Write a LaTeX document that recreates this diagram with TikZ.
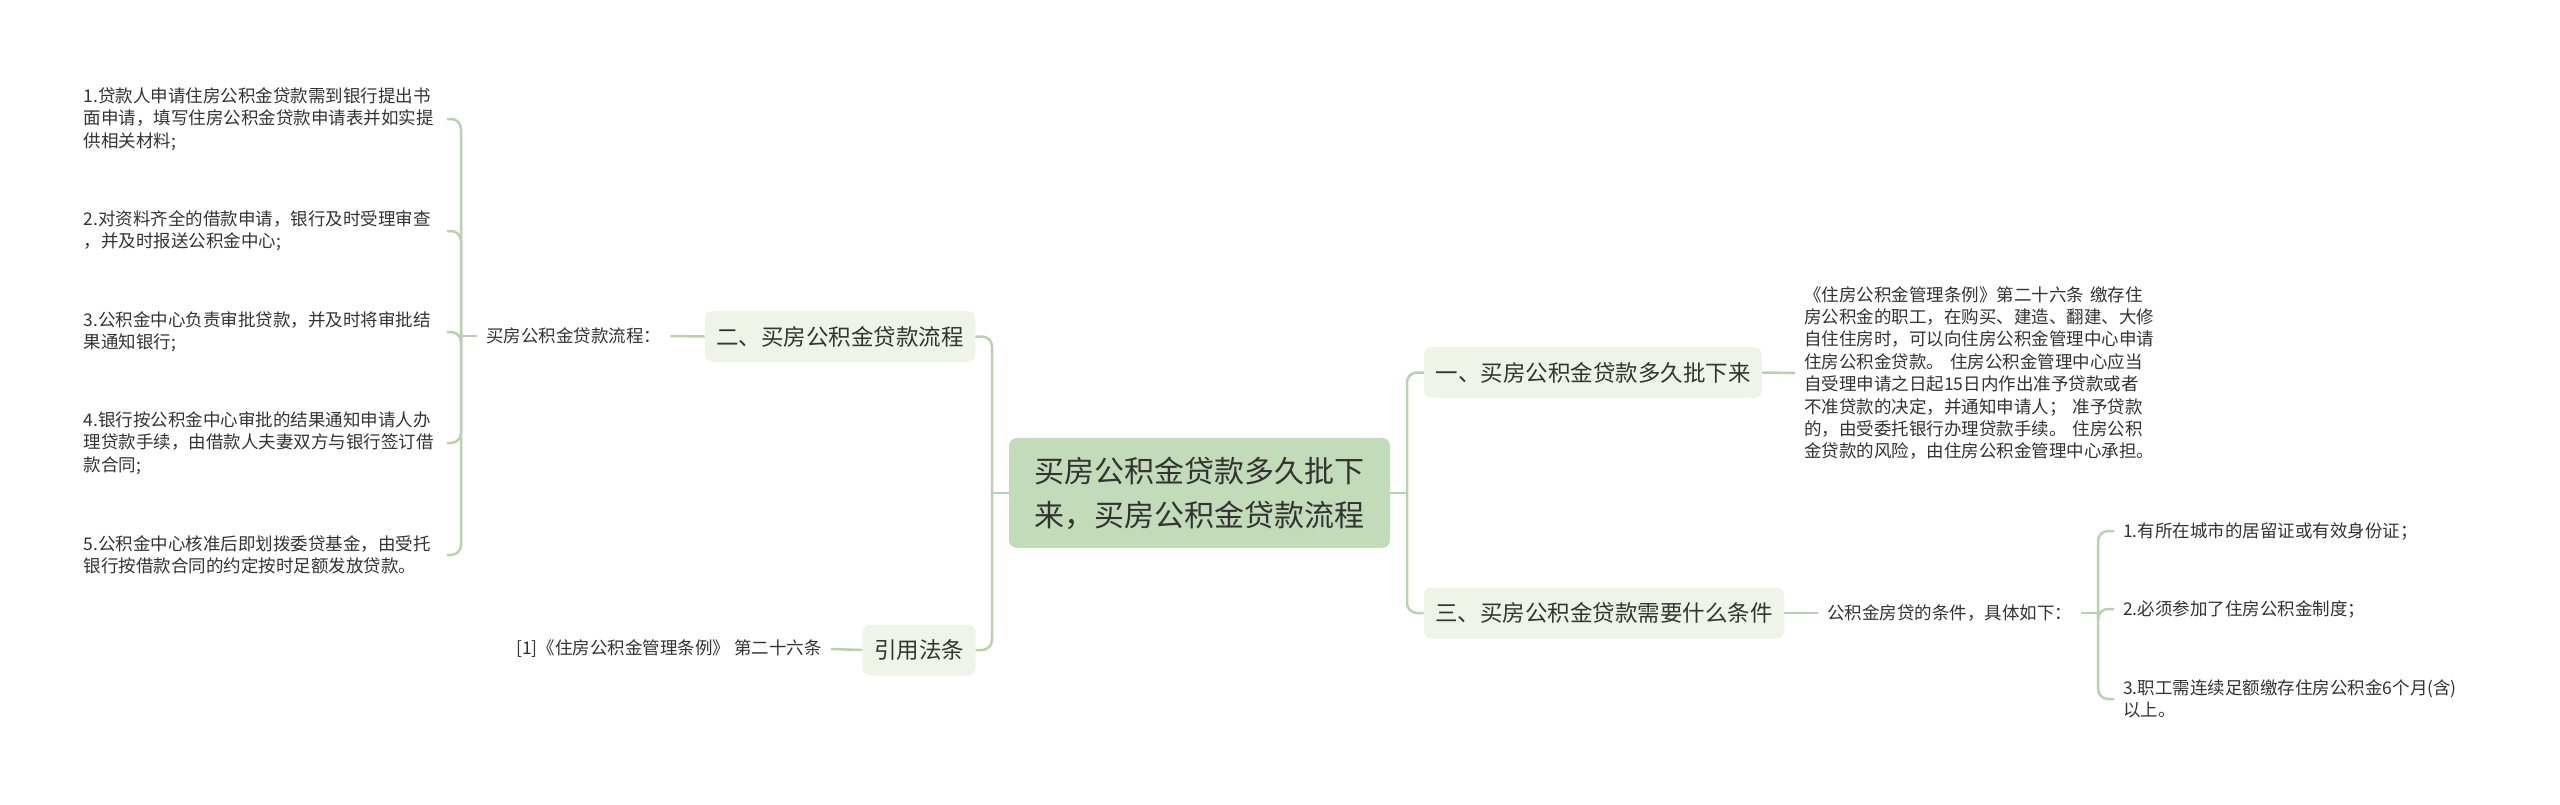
\documentclass[tikz,border=0pt]{standalone}
\usepackage{fontspec}
\newfontfamily\cjk{Noto Sans CJK SC}
\definecolor{linegreen}{HTML}{B8D2AF}
\definecolor{rootfill}{HTML}{C2DCB9}
\definecolor{topicfill}{HTML}{EEF5E8}
\definecolor{txt}{HTML}{333333}

\begin{document}
\begin{tikzpicture}[x=1pt,y=-1pt,text=txt,
  root/.style={fill=rootfill,rounded corners=8pt,minimum width=381pt,minimum height=110pt,align=center,font=\cjk\fontsize{30}{44}\selectfont},
  topic/.style={fill=topicfill,rounded corners=8pt,inner xsep=11.5pt,minimum height=51pt,font=\cjk\fontsize{22.5}{27}\selectfont},
  leaf/.style={inner xsep=9pt,inner ysep=2pt,align=left,font=\cjk\fontsize{17.5}{22.4}\selectfont},
  link/.style={draw=linegreen,line width=2.5pt,rounded corners=10pt}]
\path[use as bounding box,fill=white] (0,0) rectangle (2560,804);

\node[root] (main) at (1199.5,493) {买房公积金贷款多久批下\\来，买房公积金贷款流程};

\node[topic] (t2) at (840,336.5) {二、买房公积金贷款流程};
\node[topic] (law) at (919,650) {引用法条};
\node[topic] (t1) at (1593,372.5) {一、买房公积金贷款多久批下来};
\node[topic] (t3) at (1604,613) {三、买房公积金贷款需要什么条件};

\node[leaf,anchor=west] (flow) at (477,336) {买房公积金贷款流程：};
\node[leaf,anchor=east,text width=354pt] (s1) at (447,119) {1.贷款人申请住房公积金贷款需到银行提出书\\面申请，填写住房公积金贷款申请表并如实提\\供相关材料;};
\node[leaf,anchor=east,text width=354pt] (s2) at (447,231) {2.对资料齐全的借款申请，银行及时受理审查\\，并及时报送公积金中心;};
\node[leaf,anchor=east,text width=354pt] (s3) at (447,332) {3.公积金中心负责审批贷款，并及时将审批结\\果通知银行;};
\node[leaf,anchor=east,text width=354pt] (s4) at (447,443) {4.银行按公积金中心审批的结果通知申请人办\\理贷款手续，由借款人夫妻双方与银行签订借\\款合同;};
\node[leaf,anchor=east,text width=354pt] (s5) at (447,555) {5.公积金中心核准后即划拨委贷基金，由受托\\银行按借款合同的约定按时足额发放贷款。};
\node[leaf,anchor=east] (ref) at (831,649) {[1]《住房公积金管理条例》 第二十六条};

\node[leaf,anchor=west,text width=356pt] (rule) at (1795,373) {《住房公积金管理条例》第二十六条 缴存住\\房公积金的职工，在购买、建造、翻建、大修\\自住住房时，可以向住房公积金管理中心申请\\住房公积金贷款。 住房公积金管理中心应当\\自受理申请之日起15日内作出准予贷款或者\\不准贷款的决定，并通知申请人； 准予贷款\\的，由受委托银行办理贷款手续。 住房公积\\金贷款的风险，由住房公积金管理中心承担。};
\node[leaf,anchor=west] (cond) at (1818,613) {公积金房贷的条件，具体如下：};
\node[leaf,anchor=west] (c1) at (2114,531) {1.有所在城市的居留证或有效身份证；};
\node[leaf,anchor=west] (c2) at (2114,609) {2.必须参加了住房公积金制度；};
\node[leaf,anchor=west] (c3) at (2114,699) {3.职工需连续足额缴存住房公积金6个月(含)\\以上。};

\coordinate (hubL) at (461,336);
\coordinate (hubM) at (992,493);
\coordinate (hubR) at (1407,493);
\coordinate (hubC) at (2098,613);

\draw[link] (main.west) -- (hubM);
\draw[link] (main.east) -- (hubR);
\foreach \n in {t2,law} \draw[link] (hubM) |- (\n.east);
\foreach \n in {t1,t3} \draw[link] (hubR) |- (\n.west);
\draw[link] (t2.west) -- (flow.east);
\draw[link] (flow.west) -- (hubL);
\foreach \n in {s1,s2,s3,s4,s5} \draw[link] (hubL) |- (\n.east);
\draw[link] (law.west) -- (ref.east);
\draw[link] (t1.east) -- (rule.west);
\draw[link] (t3.east) -- (cond.west);
\draw[link] (cond.east) -- (hubC);
\foreach \n in {c1,c2,c3} \draw[link] (hubC) |- (\n.west);
\end{tikzpicture}
\end{document}
